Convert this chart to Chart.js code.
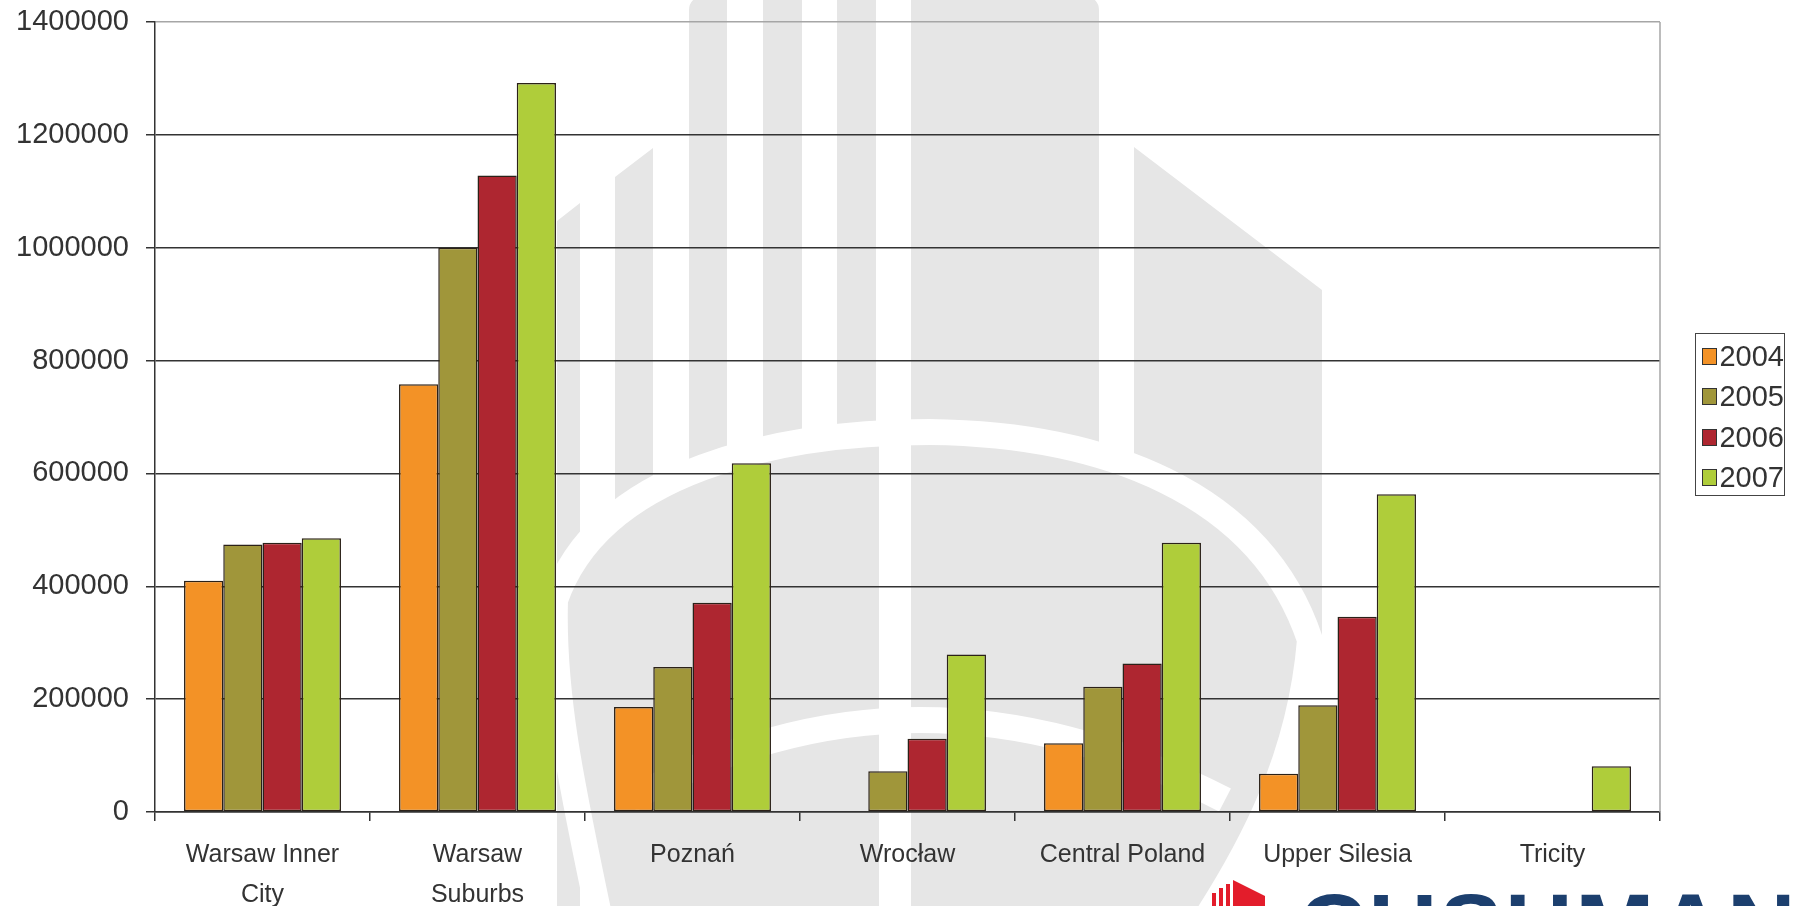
<!DOCTYPE html>
<html>
<head>
<meta charset="utf-8">
<title>Office supply by region</title>
<script src="https://cdn.jsdelivr.net/npm/chart.js@4.4.1/dist/chart.umd.min.js"></script>
<style>
  html, body { margin: 0; padding: 0; background: #fff; overflow: hidden; }
  #wrap { position: relative; width: 1798px; height: 906px; overflow: hidden; }
  #legend {
    position: absolute; left: 1695px; top: 333px; width: 90px; height: 163px;
    border: 1.5px solid #444; padding-top: 2px; box-sizing: border-box;
    font-family: 'Liberation Sans', Arial, sans-serif; font-size: 29px; color: #333;
  }
  #legend .item { display: flex; align-items: center; height: 40.5px; }
  #legend .sw { width: 14px; height: 15px; border: 1px solid #333; margin-left: 6px; margin-right: 2px; }
  #logo {
    position: absolute; left: 1298px; top: 880px; white-space: nowrap;
    font-family: 'Liberation Sans', Arial, sans-serif; font-weight: bold;
    font-size: 95px; line-height: 95px; letter-spacing: 2px; color: #1c3f6e;
  }
</style>
</head>
<body>
<div id="wrap">
  <canvas id="chart" width="1798" height="906"></canvas>
  <div id="legend"></div>
  <div id="logo">CUSHMAN &amp; WAKEFIELD</div>
</div>
<script>
var categories = [['Warsaw Inner', 'City'], ['Warsaw', 'Suburbs'], 'Poznań', 'Wrocław', 'Central Poland', 'Upper Silesia', 'Tricity'];
var years = ['2004', '2005', '2006', '2007'];

var s2004 = [410000, 758000, 186000, null, 122000, 68000, null];
var s2005 = [474000, 1000000, 257000, 72000, 222000, 189000, null];
var s2006 = [477000, 1128000, 371000, 130000, 263000, 346000, null];
var s2007 = [485000, 1292000, 618000, 279000, 477000, 563000, 81000];

var yMax = 1400000;
var yStep = 200000;

var colors = ['#F39226', '#A0963A', '#AE2630', '#AFCD3A'];
var series = [s2004, s2005, s2006, s2007];

Chart.defaults.font.family = "'Liberation Sans', Arial, sans-serif";
Chart.defaults.color = '#333';

// light grey watermark behind the chart (building / globe logo)
var watermark = {
  id: 'watermark',
  beforeDraw: function (chart) {
    var c = chart.ctx;
    c.save();
    c.fillStyle = '#e6e6e6';
    c.beginPath();
    c.roundRect(689, -4, 38, 910, [14, 0, 0, 0]);
    c.rect(763, -4, 39, 910);
    c.rect(837, -4, 39, 910);
    c.roundRect(911, -4, 188, 910, [0, 14, 0, 0]);
    c.fill();

    c.beginPath();
    c.moveTo(615, 177); c.lineTo(653, 148); c.lineTo(653, 906); c.lineTo(615, 906); c.closePath();
    c.moveTo(557, 221); c.lineTo(580, 203); c.lineTo(580, 906); c.lineTo(557, 906); c.closePath();
    c.moveTo(1134, 147); c.lineTo(1322, 290); c.lineTo(1322, 640); c.lineTo(1134, 640); c.closePath();
    c.fill();

    // shield / globe body
    c.beginPath();
    c.moveTo(600, 906);
    c.bezierCurveTo(575, 800, 552, 700, 555, 600);
    c.bezierCurveTo(600, 470, 780, 432, 930, 432);
    c.bezierCurveTo(1100, 434, 1260, 490, 1310, 640);
    c.bezierCurveTo(1300, 760, 1250, 850, 1205, 906);
    c.closePath();
    c.fill();

    // white rings
    c.strokeStyle = '#fff';
    c.lineWidth = 26;
    c.beginPath();
    c.moveTo(600, 920);
    c.bezierCurveTo(575, 800, 552, 700, 555, 600);
    c.bezierCurveTo(600, 470, 780, 432, 930, 432);
    c.bezierCurveTo(1100, 434, 1260, 490, 1310, 640);
    c.bezierCurveTo(1300, 760, 1250, 850, 1205, 920);
    c.stroke();
    c.beginPath();
    c.moveTo(630, 800);
    c.quadraticCurveTo(913, 640, 1225, 800);
    c.stroke();
    c.fillStyle = '#fff';
    c.fillRect(879, 0, 32, 906);

    // red logo mark at the bottom
    c.fillStyle = '#e31d2b';
    c.fillRect(1212, 893, 4, 13);
    c.fillRect(1219, 888, 4, 18);
    c.fillRect(1226, 884, 4, 22);
    c.beginPath();
    c.moveTo(1233, 880); c.lineTo(1265, 896); c.lineTo(1265, 906); c.lineTo(1233, 906); c.closePath();
    c.fill();
    c.restore();
  }
};

// light grey plot-area border on the right
var plotBorder = {
  id: 'plotBorder',
  beforeDatasetsDraw: function (chart) {
    var a = chart.chartArea, c = chart.ctx;
    c.save();
    c.strokeStyle = '#a6a6a6';
    c.lineWidth = 1.5;
    c.beginPath();
    c.moveTo(a.right, a.top);
    c.lineTo(a.right, a.bottom);
    c.stroke();
    c.restore();
  }
};

var ctx = document.getElementById('chart');

var myChart = new Chart(ctx, {
  type: 'bar',
  data: {
    labels: categories,
    datasets: years.map(function (y, i) {
      return {
        label: y,
        data: series[i],
        backgroundColor: colors[i],
        borderColor: '#2b2118',
        borderWidth: 1.5,
        borderSkipped: false,
        categoryPercentage: 0.73,
        barPercentage: 1.0
      };
    })
  },
  options: {
    responsive: false,
    animation: false,
    layout: { padding: { top: 22, right: 138, left: 0, bottom: 0 } },
    plugins: {
      legend: { display: false },
      tooltip: { enabled: false }
    },
    scales: {
      x: {
        grid: { offset: true, drawOnChartArea: false, color: '#333', lineWidth: 1.5, tickLength: 9 },
        border: { color: '#333', width: 1.5 },
        ticks: { color: '#333', font: { size: 25, lineHeight: 1.6 }, padding: 14, maxRotation: 0, autoSkip: false },
        afterFit: function (s) { s.height = 94; }
      },
      y: {
        min: 0,
        max: yMax,
        ticks: {
          stepSize: yStep,
          color: '#333',
          font: { size: 29 },
          padding: 17,
          callback: function (v) { return String(v); }
        },
        grid: {
          color: function (c) { return c.tick && c.tick.value === yMax ? '#a6a6a6' : '#333'; },
          tickColor: '#333',
          lineWidth: 1.5,
          tickLength: 9
        },
        border: { color: '#333', width: 1.5 },
        afterFit: function (s) { s.width = 155; s.paddingTop = 0; s.paddingBottom = 0; }
      }
    }
  },
  plugins: [watermark, plotBorder]
});

// html legend
var legend = document.getElementById('legend');
years.forEach(function (y, i) {
  var item = document.createElement('div');
  item.className = 'item';
  var sw = document.createElement('span');
  sw.className = 'sw';
  sw.style.background = colors[i];
  var t = document.createElement('span');
  t.textContent = y;
  item.appendChild(sw);
  item.appendChild(t);
  legend.appendChild(item);
});
</script>
</body>
</html>
